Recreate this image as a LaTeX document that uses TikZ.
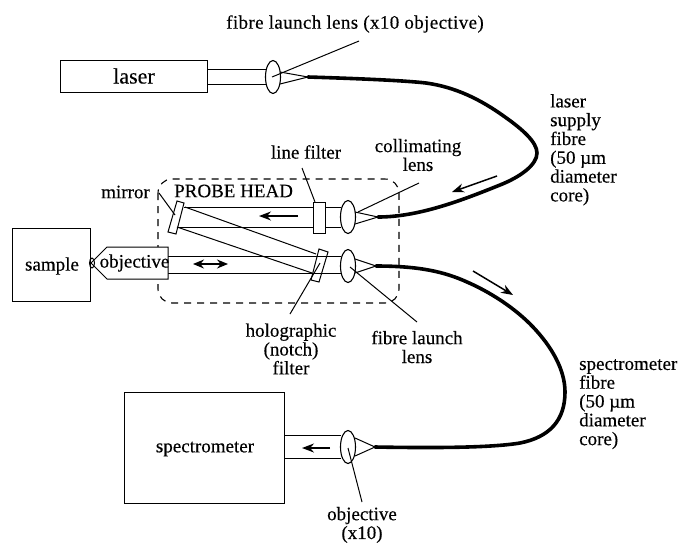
\documentclass[tikz,border=0pt]{standalone}
\usepackage{fontspec}
\setmainfont{Liberation Serif}[FakeBold=0.3]
\usetikzlibrary{arrows.meta,shapes.geometric}
\tikzset{
 ln/.style={line width=1pt,black},
 fibre/.style={line width=3.6pt,black,line cap=round},
 lens/.style={draw,line width=1.1pt,ellipse,minimum width=15pt,minimum height=33pt,inner sep=0pt},
 box/.style={draw,line width=1.2pt,inner sep=0pt,anchor=north west},
 lab/.style={inner sep=0pt,font=\fontsize{19}{18.8}\selectfont},
 lablr/.style={lab,align=left,anchor=north west},
 labc/.style={lab,align=center},
 tipa/.style={-{Stealth[length=12pt,width=9pt]},line width=1.5pt},
 tipb/.style={{Stealth[length=11pt,width=9pt]}-{Stealth[length=11pt,width=9pt]},line width=1.5pt},
}
\begin{document}
\begin{tikzpicture}[x=1pt,y=-1pt]
\useasboundingbox (0,0) rectangle (680,542);
% dashed probe head
\draw[line width=1.1pt,dash pattern=on 7pt off 6pt,rounded corners=14pt] (158,179) rectangle (399,303);
% laser
\node[box,minimum width=147pt,minimum height=32pt] (laser) at (60,60) {};
\node[lab,font=\fontsize{22}{24}\selectfont] (laserl) at (134,76) {laser};
\node[lens] (l1) at (273,77) {};
\coordinate (t1) at (308,77);
\draw[ln] (207,69) -- (266,69) (207,84) -- (266,84);
\draw[ln] (280,72) -- (t1) (280,84) -- (t1);
\coordinate (l1lab) at (359,41);
\draw[ln] (l1lab) -- (272,77);
% supply fibre
\coordinate (t2) at (378,217);
\draw[fibre] (t1) .. controls (340,78) and (400,80) .. (426,83)
  .. controls (455,87) and (480,99) .. (505,117)
  .. controls (522,129) and (537,142) .. (537,153)
  .. controls (537,165) and (520,177) .. (500,185)
  .. controls (465,199) and (420,217) .. (t2);
% collimating
\node[lens] (l2) at (348,217) {};
\node[box,minimum width=12pt,minimum height=31pt] (lf) at (313,202) {};
\draw[ln] (325,207) -- (341,207) (325,227) -- (341,227);
\draw[ln] (355,212) -- (t2) (355,224) -- (t2);
\draw[ln] (419,183) -- (358,212);
\draw[ln] (302,168) -- (315,202);
% mirror
\coordinate (m1) at (177,201); \coordinate (m2) at (184,203);
\coordinate (m3) at (176,234); \coordinate (m4) at (168,232);
\draw[ln] (m1) -- (m2) -- (m3) -- (m4) -- cycle;
\draw[ln] (184,207) -- (313,207) (177,227) -- (313,227);
\draw[ln] (185,207) -- (316,254);
\draw[ln] (177,227) -- (312,273);
\draw[ln] (159,193) -- (175,215);
% notch filter
\coordinate (n1) at (319,249); \coordinate (n2) at (328,252);
\coordinate (n3) at (319,282); \coordinate (n4) at (311,280);
\draw[ln] (n1) -- (n2) -- (n3) -- (n4) -- cycle;
\draw[ln] (290,314) -- (320,263);
% collection lens
\node[lens] (l3) at (348,266) {};
\coordinate (t3) at (376,266);
\draw[ln] (168,256) -- (341,256) (168,273) -- (341,273);
\draw[ln] (355,259) -- (t3) (355,273) -- (t3);
\draw[ln] (417,322) -- (350,267);
% spectrometer fibre
\coordinate (t4) at (375,447);
\draw[fibre] (t3) .. controls (420,266) and (445,272) .. (467,282)
  .. controls (490,292) and (515,308) .. (533,327)
  .. controls (552,347) and (565,370) .. (565,392)
  .. controls (565,420) and (550,437) .. (520,443)
  .. controls (490,448) and (430,448) .. (t4);
% sample and objective
\node[box,minimum width=78pt,minimum height=73pt] (sample) at (12,228) {};
\node[lab] (samplel) at (52,266) {sample};
\draw[ln,fill=white] (168,247) -- (107,247) -- (91,263) -- (107,279) -- (168,279) -- cycle;
\draw[ln] (92,263) ellipse[x radius=2.5pt,y radius=5pt];
\node[labc] (objl) at (134.5,263) {objective};
% spectrometer
\node[box,minimum width=160pt,minimum height=111pt] (spec) at (124,392) {};
\node[labc] (specl) at (205,449) {spectrometer};
\node[lens] (l4) at (348,447) {};
\draw[ln] (284,435) -- (341,435) (284,458) -- (341,458);
\draw[ln] (355,438) -- (t4) (355,456) -- (t4);
\draw[ln] (348,448) -- (362,502);
% arrows
\coordinate (a1s) at (298,216); \coordinate (a1e) at (259,216);
\draw[tipa] (a1s) -- (a1e);
\coordinate (a2s) at (497,176); \coordinate (a2e) at (452,192);
\draw[tipa] (a2s) -- (a2e);
\coordinate (a3s) at (473,271); \coordinate (a3e) at (513,295);
\draw[tipa] (a3s) -- (a3e);
\coordinate (a4s) at (330,448); \coordinate (a4e) at (302,448);
\draw[tipa] (a4s) -- (a4e);
\coordinate (a5s) at (193,264); \coordinate (a5e) at (228,264);
\draw[tipb] (a5s) -- (a5e);
% labels
\node[labc] (t1l) at (355,24) {\addfontfeature{LetterSpace=2}fibre launch lens (x10 objective)};
\node[lablr] (sup) at (550,94) {laser\\supply\\fibre\\(50 µm\\diameter\\core)};
\node[labc] (lfl) at (306,152) {line filter};
\node[labc] (coll) at (418,155) {collimating\\lens};
\node[labc,anchor=east] (mirl) at (150,192) {mirror};
\node[labc,anchor=west] (phl) at (174,191) {PROBE HEAD};
\node[labc] (holl) at (291,349) {holographic\\(notch)\\filter};
\node[labc] (fll) at (417,347) {fibre launch\\lens};
\node[lablr] (sfl) at (579,359) {spectrometer\\fibre\\(50 µm\\diameter\\core)};
\node[labc] (ol) at (362,525) {objective\\(x10)};
\end{tikzpicture}
\end{document}
